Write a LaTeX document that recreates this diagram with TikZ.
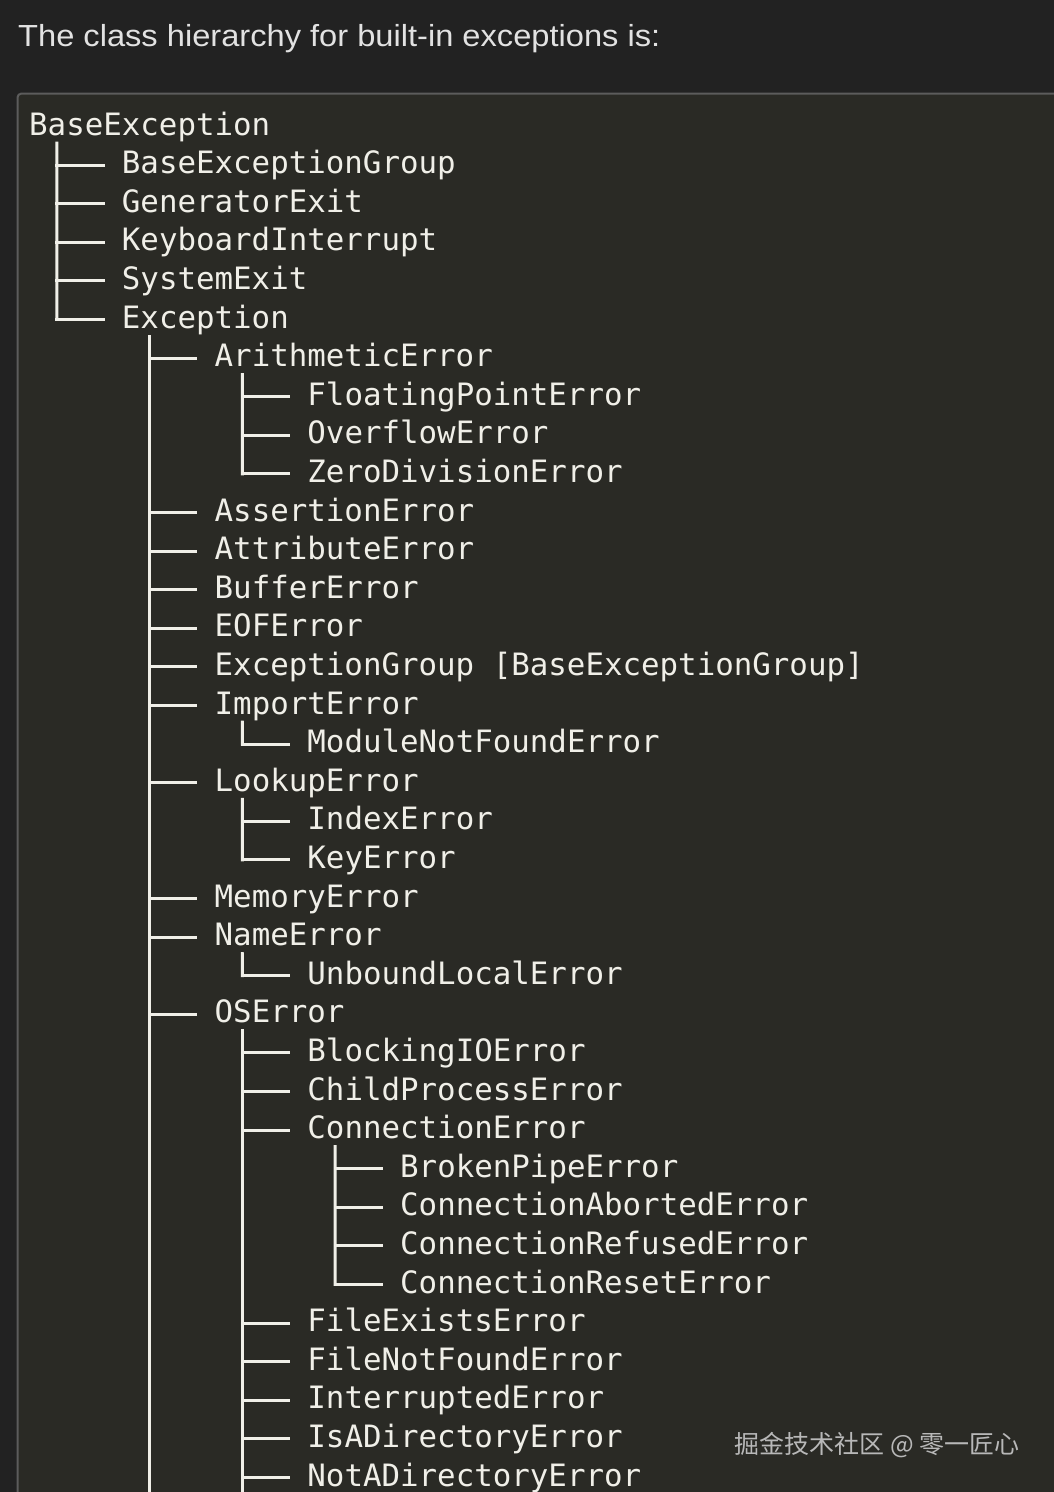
\documentclass[tikz,border=0pt]{standalone}
\usepackage{graphicx}
\usepackage{fontspec}
\setmainfont{Liberation Sans}
\newfontfamily\monof{DejaVu Sans Mono}
\newfontfamily\cjkf{Noto Sans CJK SC}
\definecolor{outerbg}{HTML}{222222}
\definecolor{boxbg}{HTML}{2A2A25}
\definecolor{boxline}{HTML}{5C5C5C}
\definecolor{txt}{HTML}{F0EFE8}
\definecolor{titlec}{HTML}{E2E2E2}
\definecolor{wmc}{HTML}{B8B8B8}
\tikzset{
  entry/.style={anchor=base west, inner sep=0pt, text=txt, font=\monof\fontsize{30.8}{30.8}\selectfont},
  treeline/.style={draw=txt, line width=2.9pt, line cap=rect},
}
\newcommand\tk[1]{\draw[treeline] ([shift={(-64.9,8.5)}]#1.base west) -- ([shift={(-18.5,8.5)}]#1.base west);}
\newcommand\trunk[2]{\draw[treeline] ([shift={(27.8,-8)}]#1.base west) -- ([shift={(-64.9,8.5)}]#2.base west);}
\newcommand\opentrunk[1]{\draw[treeline] ([shift={(27.8,-8)}]#1.base west) -- ++(0,-1400);}
\begin{document}
\begin{tikzpicture}[x=1pt,y=1pt]
\useasboundingbox (0,0) rectangle (1054,-1492);
\clip (0,0) rectangle (1054,-1492);
\fill[outerbg] (0,0) rectangle (1054,-1492);
\draw[draw=boxline, fill=boxbg, line width=2pt, rounded corners=4pt] (17.5,-93.5) rectangle (1200,-1700);

\node[anchor=base west, inner sep=0pt, text=titlec, font=\fontsize{30.5}{30.5}\selectfont] (title) at (18,-46.7) {\scalebox{1.07}[1]{The class hierarchy for built-in exceptions is:}};

\node[entry] (r0) at (29,-135) {BaseException};
\node[entry] (r1) at (121.75,-173.6) {BaseExceptionGroup};
\node[entry] (r2) at (121.75,-212.2) {GeneratorExit};
\node[entry] (r3) at (121.75,-250.8) {KeyboardInterrupt};
\node[entry] (r4) at (121.75,-289.4) {SystemExit};
\node[entry] (r5) at (121.75,-328) {Exception};
\node[entry] (r6) at (214.5,-366.6) {ArithmeticError};
\node[entry] (r7) at (307.25,-405.2) {FloatingPointError};
\node[entry] (r8) at (307.25,-443.8) {OverflowError};
\node[entry] (r9) at (307.25,-482.4) {ZeroDivisionError};
\node[entry] (r10) at (214.5,-521) {AssertionError};
\node[entry] (r11) at (214.5,-559.6) {AttributeError};
\node[entry] (r12) at (214.5,-598.2) {BufferError};
\node[entry] (r13) at (214.5,-636.8) {EOFError};
\node[entry] (r14) at (214.5,-675.4) {ExceptionGroup [BaseExceptionGroup]};
\node[entry] (r15) at (214.5,-714) {ImportError};
\node[entry] (r16) at (307.25,-752.6) {ModuleNotFoundError};
\node[entry] (r17) at (214.5,-791.2) {LookupError};
\node[entry] (r18) at (307.25,-829.8) {IndexError};
\node[entry] (r19) at (307.25,-868.4) {KeyError};
\node[entry] (r20) at (214.5,-907) {MemoryError};
\node[entry] (r21) at (214.5,-945.6) {NameError};
\node[entry] (r22) at (307.25,-984.2) {UnboundLocalError};
\node[entry] (r23) at (214.5,-1022.8) {OSError};
\node[entry] (r24) at (307.25,-1061.4) {BlockingIOError};
\node[entry] (r25) at (307.25,-1100) {ChildProcessError};
\node[entry] (r26) at (307.25,-1138.6) {ConnectionError};
\node[entry] (r27) at (400,-1177.2) {BrokenPipeError};
\node[entry] (r28) at (400,-1215.8) {ConnectionAbortedError};
\node[entry] (r29) at (400,-1254.4) {ConnectionRefusedError};
\node[entry] (r30) at (400,-1293) {ConnectionResetError};
\node[entry] (r31) at (307.25,-1331.6) {FileExistsError};
\node[entry] (r32) at (307.25,-1370.2) {FileNotFoundError};
\node[entry] (r33) at (307.25,-1408.8) {InterruptedError};
\node[entry] (r34) at (307.25,-1447.4) {IsADirectoryError};
\node[entry] (r35) at (307.25,-1486) {NotADirectoryError};

% trunks
\trunk{r0}{r5}
\opentrunk{r5}
\trunk{r6}{r9}
\trunk{r15}{r16}
\trunk{r17}{r19}
\trunk{r21}{r22}
\opentrunk{r23}
\trunk{r26}{r30}

% ticks
\foreach \k in {r1,r2,r3,r4,r5,r6,r7,r8,r9,r10,r11,r12,r13,r14,r15,r16,r17,r18,r19,r20,r21,r22,r23,r24,r25,r26,r27,r28,r29,r30,r31,r32,r33,r34,r35} {\tk{\k}}

\node[anchor=base east, inner sep=0pt, text=wmc, font=\cjkf\fontsize{25}{25}\selectfont] (wm) at (1020,-1453) {掘金技术社区 @ 零一匠心};
\end{tikzpicture}
\end{document}
